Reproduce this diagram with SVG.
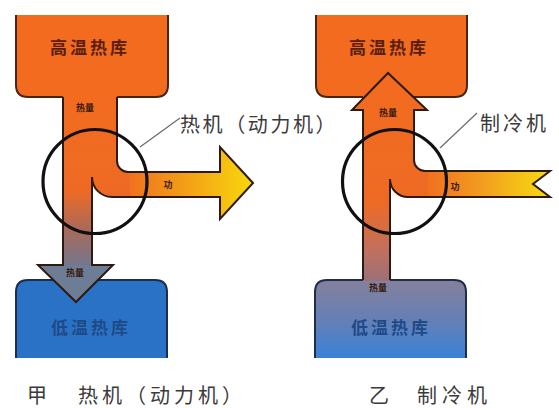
<svg xmlns="http://www.w3.org/2000/svg" width="559" height="408" viewBox="0 0 559 408">
<defs>
<linearGradient id="stemL" gradientUnits="userSpaceOnUse" x1="0" y1="96" x2="0" y2="268">
<stop offset="0" stop-color="#f26b1f"/><stop offset="0.55" stop-color="#ee6a24"/><stop offset="0.78" stop-color="#a86a5c"/><stop offset="1" stop-color="#707890"/>
</linearGradient>
<linearGradient id="stemR" gradientUnits="userSpaceOnUse" x1="0" y1="73" x2="0" y2="282">
<stop offset="0" stop-color="#f26b1f"/><stop offset="0.62" stop-color="#ee6a24"/><stop offset="0.85" stop-color="#c07060"/><stop offset="1" stop-color="#9a7078"/>
</linearGradient>
<linearGradient id="workL" gradientUnits="userSpaceOnUse" x1="120" y1="0" x2="253" y2="0">
<stop offset="0" stop-color="#f06a1e"/><stop offset="0.45" stop-color="#f39a18"/><stop offset="1" stop-color="#f8d80c"/>
</linearGradient>
<linearGradient id="workR" gradientUnits="userSpaceOnUse" x1="420" y1="0" x2="550" y2="0">
<stop offset="0" stop-color="#f06a1e"/><stop offset="0.45" stop-color="#f29a20"/><stop offset="1" stop-color="#f6dc10"/>
</linearGradient>
<linearGradient id="coldR" gradientUnits="userSpaceOnUse" x1="0" y1="280" x2="0" y2="358">
<stop offset="0" stop-color="#85809c"/><stop offset="0.5" stop-color="#6680b4"/><stop offset="1" stop-color="#3a82d8"/>
</linearGradient>
</defs>
<style>
.hot{fill:#f26b1f}
.box-edge{fill:none;stroke:#4a2412;stroke-width:2}
.cold-edge{fill:none;stroke:#1c2e4c;stroke-width:2}
.flow-edge{fill:none;stroke:#2e1a10;stroke-width:2;stroke-linejoin:miter}
.ring{fill:none;stroke:#111;stroke-width:3.2}
.lead{stroke:#6a6a6a;stroke-width:1.2;fill:none}
.boxlbl{font-family:"Noto Sans CJK SC","Noto Sans",sans-serif;font-size:17px;font-weight:bold;letter-spacing:3px;text-anchor:middle}
.tiny{font-family:"Noto Sans CJK SC","Noto Sans",sans-serif;font-size:9px;font-weight:bold;fill:#3a1a0c;text-anchor:middle}
.lbl{font-family:"Noto Sans CJK SC","Noto Sans",sans-serif;font-size:20px;fill:#3a3a3a}
</style>

<!-- Left: heat engine -->
<g id="hot-left">
<path class="hot" d="M16,15 H168 V85 Q168,97 156,97 H28 Q16,97 16,85 Z"/>
<path class="box-edge" d="M16,15 V85 Q16,97 28,97 H63 M117,97 H156 Q168,97 168,85 V15"/>
<text class="boxlbl" x="90" y="54" fill="#5a1e0c">高温热库</text>
</g>
<g id="cold-left">
<path d="M16,358 V292 Q16,280 28,280 H155 Q167,280 167,292 V358 Z" fill="#2a72c6"/>
<path class="cold-edge" d="M16,358 V292 Q16,280 28,280 H155 Q167,280 167,292 V358"/>
<text class="boxlbl" x="91" y="334" fill="#1f4a86">低温热库</text>
</g>

<!-- Right: refrigerator -->
<g id="hot-right">
<path class="hot" d="M316,15 H467 V85 Q467,97 455,97 H328 Q316,97 316,85 Z"/>
<path class="box-edge" d="M316,15 V85 Q316,97 328,97 H363 M414,97 H455 Q467,97 467,85 V15"/>
<text class="boxlbl" x="389" y="54" fill="#5a1e0c">高温热库</text>
</g>
<g id="cold-right">
<path d="M315,358 V292 Q315,280 327,280 H454 Q466,280 466,292 V358 Z" fill="url(#coldR)"/>
<path class="cold-edge" d="M315,358 V292 Q315,280 327,280 H363 M390,280 H454 Q466,280 466,292 V358"/>
<text class="boxlbl" x="391" y="334" fill="#1f4a86">低温热库</text>
</g>

<g id="connectors">
<!-- left flows -->
<path d="M124,172 H220 V147 L253,183 L220,219 V197 H124 Z" fill="url(#workL)"/>
<path d="M63,96 H117 V161 A11,11 0 0 0 128,172 H130 V197 H112 A20,20 0 0 1 92,177 V266 H63 Z" fill="url(#stemL)"/>
<path d="M38,265 H113 L76,302 Z" fill="#6e7d96"/>
<path class="flow-edge" d="M63,97 V265 H38 L76,302 L113,265 H92 V177 A20,20 0 0 0 112,197 H220 V219 L253,183 L220,147 V172 H128 A11,11 0 0 1 117,161 V97"/>
<text class="tiny" x="85" y="111">热量</text>
<text class="tiny" x="168" y="188">功</text>
<text class="tiny" x="75" y="276">热量</text>
<!-- right flows -->
<path d="M420,171 H550 L533,184 L550,197 H420 Z" fill="url(#workR)"/>
<path d="M363,281 V110 H352 L388,73 L427,110 H414 V160 A11,11 0 0 0 425,171 H428 V197 H408 A18,18 0 0 1 390,179 V281 Z" fill="url(#stemR)"/>
<path class="flow-edge" d="M363,280 V110 H352 L388,73 L427,110 H414 V160 A11,11 0 0 0 425,171 H550 L533,184 L550,197 H408 A18,18 0 0 1 390,179 V280"/>
<text class="tiny" x="388" y="116">热量</text>
<text class="tiny" x="455" y="190">功</text>
<text class="tiny" x="378" y="291">热量</text>
<!-- leader lines -->
<line class="lead" x1="140" y1="147" x2="180" y2="118"/>
<line class="lead" x1="440" y1="148" x2="477" y2="113"/>
</g>

<g id="engine-left">
<circle class="ring" cx="95" cy="181.5" r="52"/>
<text class="lbl" x="180" y="132" letter-spacing="2.6">热机（动力机）</text>
</g>
<g id="engine-right">
<circle class="ring" cx="394.5" cy="181.5" r="52"/>
<text class="lbl" x="480" y="131" letter-spacing="3">制冷机</text>
</g>

<g id="captions">
<text class="lbl" x="27" y="403">甲</text>
<text class="lbl" x="78" y="403" letter-spacing="4">热机（动力机）</text>
<text class="lbl" x="369" y="403">乙</text>
<text class="lbl" x="417" y="403" letter-spacing="5">制冷机</text>
</g>
</svg>
